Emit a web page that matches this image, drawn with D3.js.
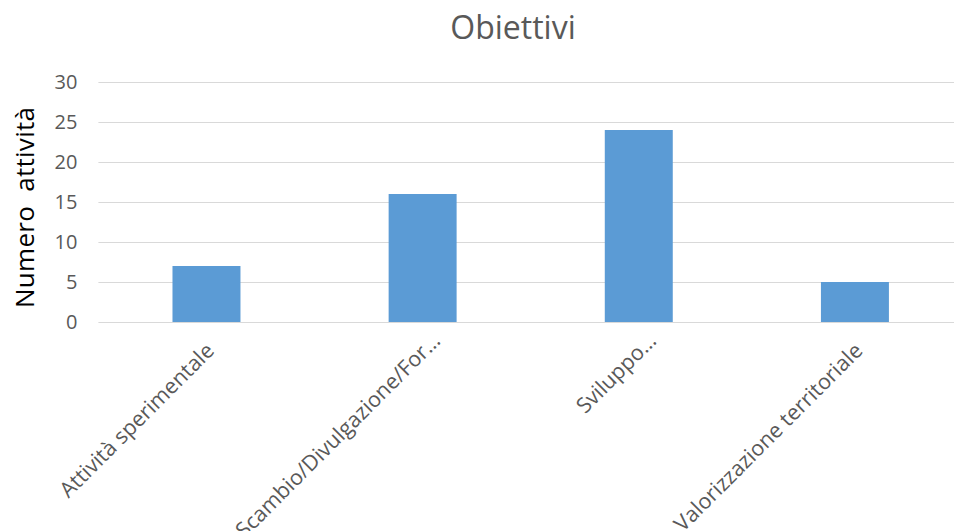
<!DOCTYPE html>
<html>
<head>
<meta charset="utf-8">
<script src="https://cdn.jsdelivr.net/npm/d3@7"></script>
<style>
  html, body { margin: 0; padding: 0; background: #fff; }
  svg { display: block; font-family: "Open Sans", sans-serif; }
</style>
</head>
<body>
<svg id="chart" width="954" height="531"></svg>
<script>
const categories = ["Attività sperimentale", "Scambio/Divulgazione/For…", "Sviluppo…", "Valorizzazione territoriale"];
const values = [7, 16, 24, 5];
const yTicks = [0, 5, 10, 15, 20, 25, 30];
const titleText = "Obiettivi";
const yTitle = "Numero  attività";

(function () {
const svg = d3.select("#chart");
const pLeft = 98.4, pRight = 963, pTop = 82, pBottom = 322;

const x = d3.scaleBand().domain(categories).range([pLeft, pRight])
  .paddingInner(0.6855).paddingOuter(0.6855 / 2);
const y = d3.scaleLinear().domain([0, 30]).range([pBottom, pTop]);

// gridlines
svg.append("g").selectAll("line").data(yTicks).join("line")
  .attr("x1", pLeft).attr("x2", pRight)
  .attr("y1", d => Math.round(y(d)) + 0.5).attr("y2", d => Math.round(y(d)) + 0.5)
  .attr("stroke", "#d9d9d9").attr("stroke-width", 1.2);

// y axis labels
const yAxis = d3.axisLeft(y).tickValues(yTicks).tickSize(0).tickPadding(21);
const gy = svg.append("g").attr("transform", `translate(${pLeft},0)`).call(yAxis);
gy.select(".domain").remove();
gy.selectAll("text").attr("fill", "#595959").style("font-size", "20px")
  .style("font-family", "'Open Sans', sans-serif");

// bars
svg.append("g").selectAll("rect").data(values).join("rect")
  .attr("x", (d, i) => x(categories[i]))
  .attr("width", x.bandwidth())
  .attr("y", d => y(d))
  .attr("height", d => y(0) - y(d))
  .attr("fill", "#5b9bd5");

// x labels (truncated labels sit a little further along, as in the source)
svg.append("g").selectAll("text").data(categories).join("text")
  .attr("transform", d => `translate(${x(d) + x.bandwidth() / 2 + 9},${352}) rotate(-45)`)
  .attr("dx", d => d.endsWith("…") ? 14 : 0)
  .attr("text-anchor", "end")
  .attr("fill", "#595959")
  .style("font-size", "21.5px")
  .text(d => d);

// title
svg.append("text").attr("x", 513).attr("y", 39).attr("text-anchor", "middle")
  .attr("fill", "#595959").style("font-size", "32px").text(titleText);

// y title
svg.append("text")
  .attr("transform", "translate(34,207.5) rotate(-90)")
  .attr("text-anchor", "middle")
  .attr("fill", "#000")
  .style("font-size", "26px")
  .style("white-space", "pre")
  .attr("textLength", 201).attr("lengthAdjust", "spacing")
  .text(yTitle);
})();
</script>
</body>
</html>
